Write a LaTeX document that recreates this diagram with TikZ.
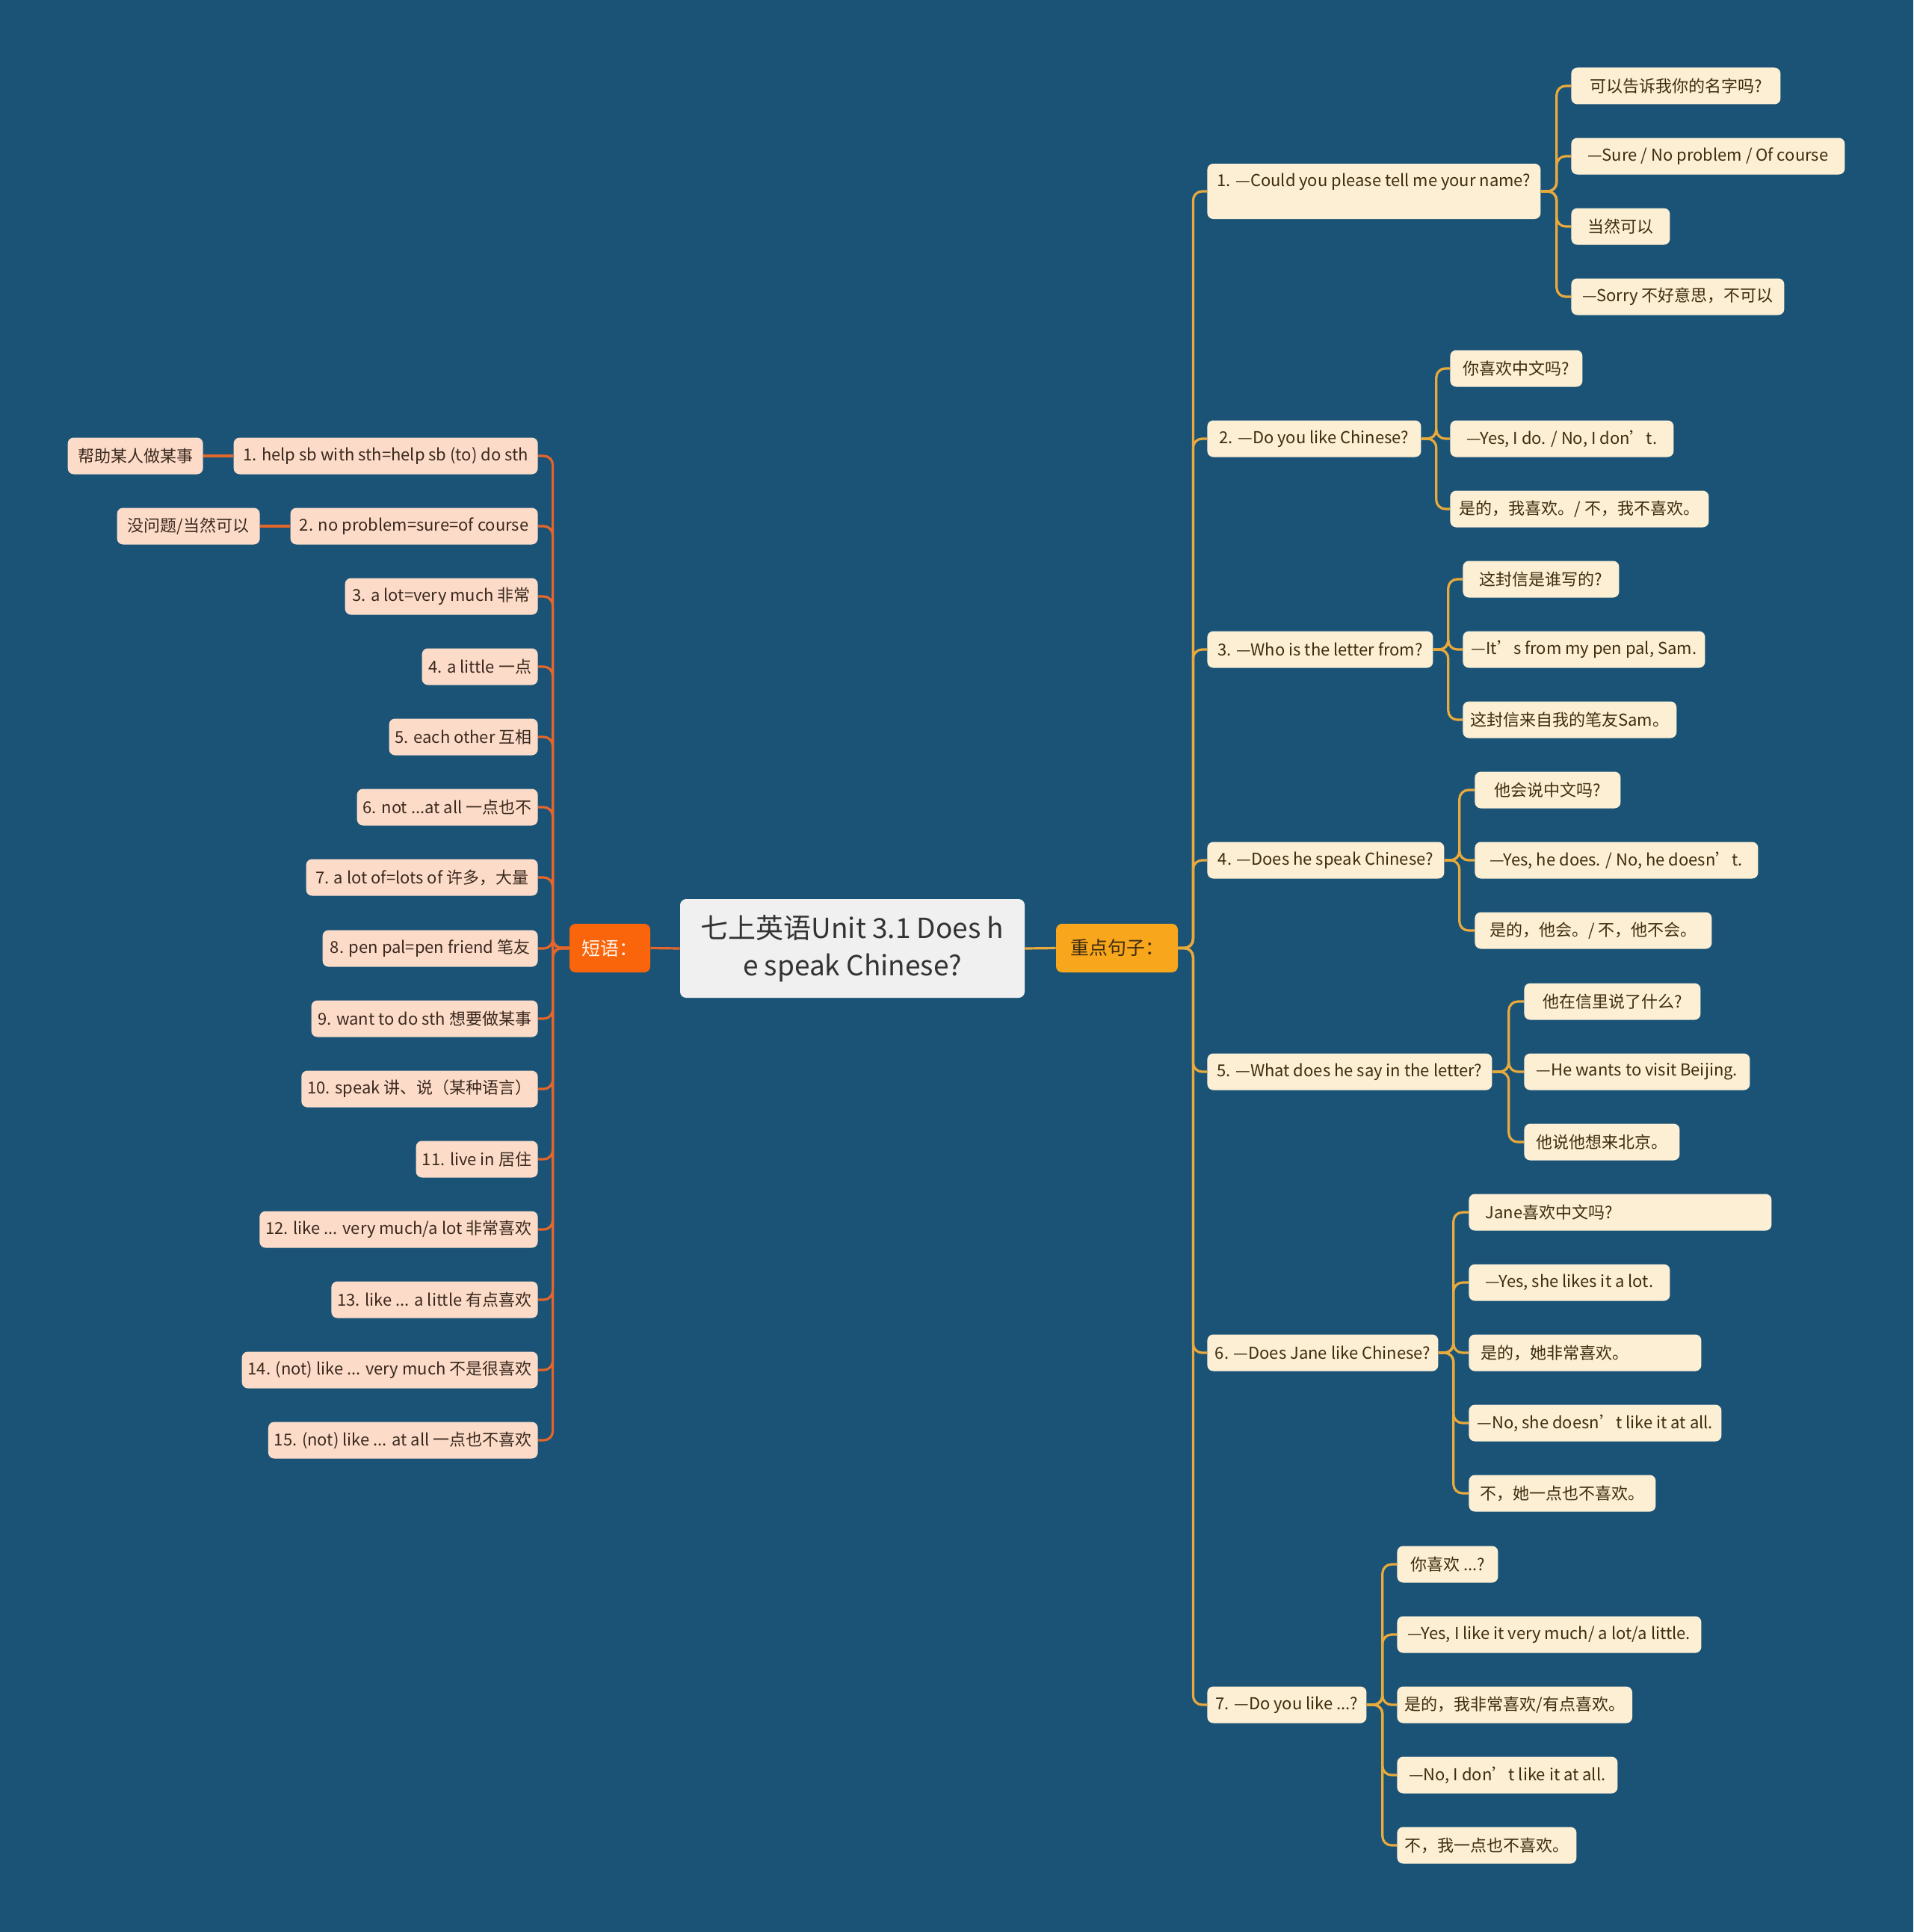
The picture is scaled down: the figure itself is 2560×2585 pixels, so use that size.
\documentclass[tikz,border=0pt]{standalone}
\usepackage{fontspec}
\setmainfont{Noto Sans CJK SC}
\usepackage{xcolor}
\usetikzlibrary{shapes,arrows,positioning}

\definecolor{bgblue}{RGB}{27,83,119}
\definecolor{lfill}{RGB}{252,220,200}
\definecolor{rfill}{RGB}{253,239,212}
\definecolor{ltext}{RGB}{58,40,30}
\definecolor{rtext}{RGB}{62,44,14}
\definecolor{lorange}{RGB}{229,102,42}
\definecolor{rgold}{RGB}{233,170,59}
\definecolor{phrfill}{RGB}{250,100,10}
\definecolor{keyfill}{RGB}{248,166,28}

\begin{document}
\begin{tikzpicture}[x=0.5pt, y=-0.5pt,
    every node/.style={font=\fontsize{11}{13.5}\selectfont},
    lsub/.style={fill=lfill, text=ltext, rounded corners=4pt, minimum height=24.5pt, inner xsep=4pt, inner ysep=2pt, anchor=east},
    rsub/.style={fill=rfill, text=rtext, rounded corners=4pt, minimum height=24.5pt, inner xsep=5pt, inner ysep=2pt, anchor=west},
    lline/.style={draw=lorange, line width=1.6pt, rounded corners=6pt},
    rline/.style={draw=rgold, line width=1.6pt, rounded corners=6pt}]

    \fill[bgblue] (0,0) rectangle (2560,2585);
    \useasboundingbox (0,0) rectangle (2560,2585);

    % centre
    \node[fill=black!6, text=black!80, rounded corners=4pt, minimum width=230.5pt, minimum height=66pt, align=center,
          font=\fontsize{18.5}{25}\selectfont] (title) at (1140.5,1269) {七上英语Unit 3.1 Does h\\e speak Chinese?};
    \node[fill=phrfill, text=white!92!orange, rounded corners=4pt, minimum width=54pt, minimum height=32.5pt,
          font=\fontsize{12.5}{15}\selectfont] (phr) at (816,1268.5) {短语：};
    \node[fill=keyfill, text=rtext, rounded corners=4pt, minimum width=81.5pt, minimum height=32.5pt,
          font=\fontsize{12.5}{15}\selectfont] (key) at (1494.5,1268.5) {重点句子：};
    \draw[lline] (title.west) -- (phr.east);
    \draw[rline] (title.east) -- (key.west);

    % phrases
    \node[lsub, minimum width=203.5pt] (p1) at (720,610) {1. help sb with sth=help sb (to) do sth};
    \node[lsub, minimum width=165.5pt] (p2) at (720,704) {2. no problem=sure=of course};
    \node[lsub, minimum width=129pt] (p3) at (720,798) {3. a lot=very much 非常};
    \node[lsub, minimum width=77.5pt] (p4) at (720,892) {4. a little 一点};
    \node[lsub, minimum width=99.5pt] (p5) at (720,986) {5. each other 互相};
    \node[lsub, minimum width=119.5pt] (p6) at (720,1080) {6. not ...at all 一点也不};
    \node[lsub, minimum width=155pt] (p7) at (720,1174) {7. a lot of=lots of 许多，大量};
    \node[lsub, minimum width=144pt] (p8) at (720,1269) {8. pen pal=pen friend 笔友};
    \node[lsub, minimum width=151.5pt] (p9) at (720,1363) {9. want to do sth 想要做某事};
    \node[lsub, minimum width=155.5pt] (p10) at (720,1457) {10. speak 讲、说（某种语言）};
    \node[lsub, minimum width=81.5pt] (p11) at (720,1551) {11. live in 居住};
    \node[lsub, minimum width=184.5pt] (p12) at (720,1645) {12. like ... very much/a lot 非常喜欢};
    \node[lsub, minimum width=136.5pt] (p13) at (720,1739) {13. like ... a little 有点喜欢};
    \node[lsub, minimum width=195pt] (p14) at (720,1833) {14. (not) like ... very much 不是很喜欢};
    \node[lsub, minimum width=178pt] (p15) at (720,1927) {15. (not) like ... at all 一点也不喜欢};
    \node[lsub, minimum width=90.5pt] (p1a) at (272,610) {帮助某人做某事};
    \node[lsub, minimum width=95.5pt] (p2a) at (348,704) {没问题/当然可以};

    \foreach \i in {1,...,15}
        \draw[lline] (phr.west) -- ++(-22,0) |- (p\i.east);
    \draw[lline] (p1.west) -- (p1a.east);
    \draw[lline] (p2.west) -- (p2a.east);

    % key sentences
    \node[rsub, minimum width=223pt, minimum height=37pt, align=left] (q1) at (1615,256) {1. —Could you please tell me your name?\\[2pt]\mbox{}};
    \node[rsub, minimum width=143pt] (q2) at (1615,587) {2. —Do you like Chinese?};
    \node[rsub, minimum width=151pt] (q3) at (1615,869) {3. —Who is the letter from?};
    \node[rsub, minimum width=158.5pt] (q4) at (1615,1151) {4. —Does he speak Chinese?};
    \node[rsub, minimum width=190.5pt] (q5) at (1615,1434) {5. —What does he say in the letter?};
    \node[rsub, minimum width=154.5pt] (q6) at (1615,1810) {6. —Does Jane like Chinese?};
    \node[rsub, minimum width=106.5pt] (q7) at (1615,2281) {7. —Do you like ...?};
    \foreach \i in {1,...,7}
        \draw[rline] (key.east) -- ++(20,0) |- (q\i.west);

    \node[rsub, minimum width=140pt] (q1a) at (2102,115) {可以告诉我你的名字吗?};
    \node[rsub, minimum width=183pt] (q1b) at (2102,209) {—Sure / No problem / Of course};
    \node[rsub, minimum width=66pt] (q1c) at (2102,303) {当然可以};
    \node[rsub, minimum width=142.5pt] (q1d) at (2102,397) {—Sorry 不好意思，不可以};

    \node[rsub, minimum width=88.5pt] (q2a) at (1940,493) {你喜欢中文吗?};
    \node[rsub, minimum width=149.5pt] (q2b) at (1940,587) {—Yes, I do. / No, I don’t.};
    \node[rsub, minimum width=173pt] (q2c) at (1940,681) {是的，我喜欢。/ 不，我不喜欢。};

    \node[rsub, minimum width=104.5pt] (q3a) at (1957,775) {这封信是谁写的?};
    \node[rsub, minimum width=162pt] (q3b) at (1957,869) {—It’s from my pen pal, Sam.};
    \node[rsub, minimum width=141.5pt] (q3c) at (1957,963) {这封信来自我的笔友Sam。};

    \node[rsub, minimum width=97.5pt] (q4a) at (1973,1057) {他会说中文吗?};
    \node[rsub, minimum width=189.5pt] (q4b) at (1973,1151) {—Yes, he does. / No, he doesn’t.};
    \node[rsub, minimum width=158.5pt] (q4c) at (1973,1245) {是的，他会。/ 不，他不会。};

    \node[rsub, minimum width=118pt] (q5a) at (2039,1340) {他在信里说了什么?};
    \node[rsub, minimum width=151pt] (q5b) at (2039,1434) {—He wants to visit Beijing.};
    \node[rsub, minimum width=104pt] (q5c) at (2039,1528) {他说他想来北京。};

    \node[rsub, text width=192.5pt, align=left] (q6a) at (1965,1622) {\hspace*{6pt}Jane喜欢中文吗?};
    \node[rsub, minimum width=134.5pt] (q6b) at (1965,1716) {—Yes, she likes it a lot.};
    \node[rsub, text width=145.5pt, align=left] (q6c) at (1965,1810) {\hspace*{3pt}是的，她非常喜欢。};
    \node[rsub, minimum width=169pt] (q6d) at (1965,1904) {—No, she doesn’t like it at all.};
    \node[rsub, minimum width=125pt] (q6e) at (1965,1998) {不，她一点也不喜欢。};

    \node[rsub, minimum width=67.5pt] (q7a) at (1869,2093) {你喜欢 ...?};
    \node[rsub, minimum width=203.5pt] (q7b) at (1869,2187) {—Yes, I like it very much/ a lot/a little.};
    \node[rsub, minimum width=156.5pt] (q7c) at (1869,2281) {是的，我非常喜欢/有点喜欢。};
    \node[rsub, minimum width=147.5pt] (q7d) at (1869,2375) {—No, I don’t like it at all.};
    \node[rsub, minimum width=119.5pt] (q7e) at (1869,2469) {不，我一点也不喜欢。};

    \foreach \c in {a,b,c,d}
        \draw[rline] (q1.east) -- ++(21,0) |- (q1\c.west);
    \foreach \c in {a,b,c}
        \draw[rline] (q2.east) -- ++(20,0) |- (q2\c.west);
    \foreach \c in {a,b,c}
        \draw[rline] (q3.east) -- ++(20,0) |- (q3\c.west);
    \foreach \c in {a,b,c}
        \draw[rline] (q4.east) -- ++(20,0) |- (q4\c.west);
    \foreach \c in {a,b,c}
        \draw[rline] (q5.east) -- ++(22,0) |- (q5\c.west);
    \foreach \c in {a,b,c,d,e}
        \draw[rline] (q6.east) -- ++(20,0) |- (q6\c.west);
    \foreach \c in {a,b,c,d,e}
        \draw[rline] (q7.east) -- ++(21,0) |- (q7\c.west);
\end{tikzpicture}
\end{document}
